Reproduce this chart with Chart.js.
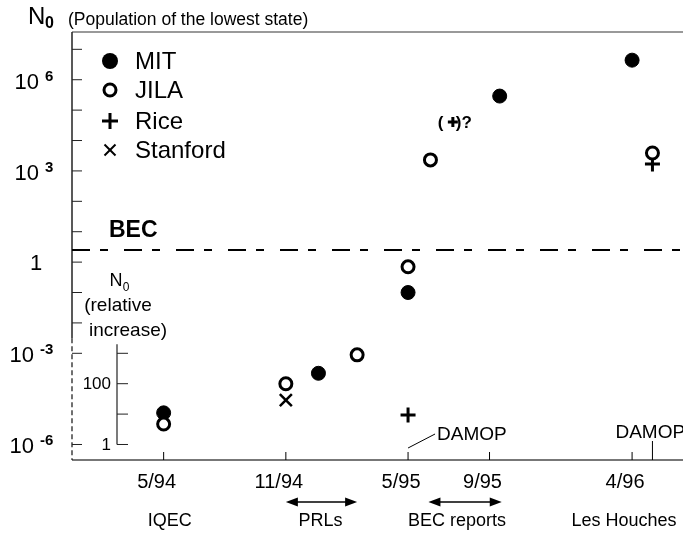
<!DOCTYPE html>
<html>
<head>
<meta charset="utf-8">
<script src="https://cdn.jsdelivr.net/npm/chart.js@4.4.0/dist/chart.umd.min.js"></script>
<style>
  html, body { margin: 0; padding: 0; background: #fff; }
  #wrap { width: 683px; height: 535px; }
</style>
</head>
<body>
<div id="wrap"><canvas id="becChart" width="683" height="535"></canvas></div>
<script>
// x = months counted from 5/94, y = N0 (population of the lowest state)
const seriesNames = ['MIT', 'JILA', 'Rice', 'Stanford']

const mitMonths = [0, 7.6, 12, 16.5, 23]
const mitN0 = [1.1e-5, 2.2e-4, 0.1, 2.9e5, 4.4e6]

const jilaMonths = [0, 6, 9.5, 12, 13.1, 24]
const jilaN0 = [4.7e-6, 1e-4, 8.9e-4, 0.7, 2.3e3, 3.9e3]

const riceMonths = [12, 14.2, 24]
const riceN0 = [9.4e-6, 4.1e4, 1.7e3]

const stanfordMonths = [6]
const stanfordN0 = [2.9e-5]

const tickMonths = [0, 6, 12, 16, 23]
const tickLabels = ['5/94', '11/94', '5/95', '9/95', '4/96']

const decadeTicks = [7, 6, 5, 4, 3, 2, 1, 0, -1, -2, -3, -6]
const labelExps = [6, 3, 0, -3, -6]

const relTicks = [1000, 100, 10, 1]
const relLabels = ['', '100', '', '1']

const becLevel = 2.5
const damopMonths = [12, 24]
const eventNames = ['IQEC', 'PRLs', 'BEC reports', 'Les Houches']
const eventMonths = [0.3, 7.7, 14.4, 22.6]
const prlSpan = [6, 9.5]
const becReportSpan = [13, 16.6]

;(function() {
    "use strict"

    const FONT = '"Liberation Sans", Arial, sans-serif'

    const toPoints = (xs, ys) => xs.map((m, i) => ({ x: m, y: ys[i] }))

    const figureUI = (function() {

        const text = (ctx, str, x, y, size, opts = {}) => {
            ctx.font = (opts.bold ? 'bold ' : '') + size + 'px ' + FONT
            ctx.textAlign = opts.align || 'left'
            ctx.textBaseline = opts.base || 'middle'
            ctx.fillStyle = '#000'
            ctx.fillText(str, x, y)
        }

        const line = (ctx, x1, y1, x2, y2, w, color, dash) => {
            ctx.save()
            ctx.beginPath()
            ctx.lineWidth = w
            ctx.strokeStyle = color || '#000'
            ctx.setLineDash(dash || [])
            ctx.moveTo(x1, y1)
            ctx.lineTo(x2, y2)
            ctx.stroke()
            ctx.restore()
        }

        const arrowHead = (ctx, x, y, dir) => {
            ctx.beginPath()
            ctx.moveTo(x, y)
            ctx.lineTo(x - dir * 12, y - 4.5)
            ctx.lineTo(x - dir * 12, y + 4.5)
            ctx.closePath()
            ctx.fillStyle = '#000'
            ctx.fill()
        }

        const doubleArrow = (ctx, x1, x2, y) => {
            line(ctx, x1 + 6, y, x2 - 6, y, 1.5)
            arrowHead(ctx, x1, y, -1)
            arrowHead(ctx, x2, y, 1)
        }

        const legendMarker = (ctx, name, x, y) => {
            ctx.save()
            ctx.strokeStyle = '#000'
            ctx.fillStyle = '#000'
            if (name === 'MIT') {
                ctx.beginPath(); ctx.arc(x, y, 8, 0, Math.PI * 2); ctx.fill()
            } else if (name === 'JILA') {
                ctx.lineWidth = 3
                ctx.beginPath(); ctx.arc(x, y, 6, 0, Math.PI * 2); ctx.stroke()
            } else if (name === 'Rice') {
                line(ctx, x - 8, y, x + 8, y, 3)
                line(ctx, x, y - 8, x, y + 8, 3)
            } else {
                line(ctx, x - 5.5, y - 5.5, x + 5.5, y + 5.5, 2)
                line(ctx, x - 5.5, y + 5.5, x + 5.5, y - 5.5, 2)
            }
            ctx.restore()
        }

        return {
            drawAxes: chart => {
                const { ctx, chartArea: a, scales: { x, y } } = chart
                const y3 = y.getPixelForValue(1e-3)

                // frame top + time axis
                line(ctx, a.left, a.top, a.right, a.top, 1.5, '#777')
                line(ctx, a.left, a.bottom, a.right, a.bottom, 2, '#777')

                // N0 axis, dashed below 10^-3
                line(ctx, a.left, a.top, a.left, y3 - 15, 1.5, '#222')
                line(ctx, a.left, y3 - 15, a.left, a.bottom, 1.2, '#111', [5, 3])

                decadeTicks.forEach(d => {
                    const py = y.getPixelForValue(Math.pow(10, d))
                    line(ctx, a.left, py, a.left + 10, py, 1, '#222')
                })

                labelExps.forEach(e => {
                    const py = y.getPixelForValue(Math.pow(10, e))
                    if (e === 0) {
                        text(ctx, '1', 36, py + 2, 22, { align: 'center' })
                        return
                    }
                    const right = e > 0 ? 39 : 34
                    text(ctx, '10', right, py + 9, 22, { align: 'right', base: 'alphabetic' })
                    text(ctx, String(e), right + 6, py + 1, 15, { bold: true, base: 'alphabetic' })
                })

                // inner "relative increase" axis
                const ix = a.left + 45
                line(ctx, ix, y3 - 9, ix, y.getPixelForValue(1e-6), 1.2, '#222')
                relTicks.forEach((r, i) => {
                    const py = y.getPixelForValue(r * 1e-6)
                    line(ctx, ix, py, ix + 11, py, 1, '#222')
                    if (relLabels[i]) text(ctx, relLabels[i], ix - 6, py + 1, 17, { align: 'right' })
                })
                text(ctx, 'N', ix - 1, 281, 18, { align: 'center' })
                text(ctx, '0', ix + 9, 288, 12, { align: 'center' })
                text(ctx, '(relative', ix + 1, 306, 19, { align: 'center' })
                text(ctx, 'increase)', ix + 11, 331, 19, { align: 'center' })

                // BEC threshold
                const by = y.getPixelForValue(becLevel)
                line(ctx, a.left, by, a.right, by, 2, '#000', [18, 10, 8, 16])
                text(ctx, 'BEC', 109, by - 19, 23, { bold: true })

                // time ticks
                tickMonths.forEach((m, i) => {
                    const px = x.getPixelForValue(m)
                    line(ctx, px, a.bottom - 8, px, a.bottom, 1)
                    text(ctx, tickLabels[i], px - 7, a.bottom + 22, 20, { align: 'center' })
                })

                // DAMOP markers
                const d1 = x.getPixelForValue(damopMonths[0])
                line(ctx, d1, a.bottom - 12, d1 + 27, a.bottom - 26, 1)
                text(ctx, 'DAMOP', d1 + 29, a.bottom - 25, 19)
                const d2 = x.getPixelForValue(damopMonths[1])
                line(ctx, d2, a.bottom - 19, d2, a.bottom, 1)
                text(ctx, 'DAMOP', d2 - 37, a.bottom - 27, 19)

                // events below the axis
                doubleArrow(ctx, x.getPixelForValue(prlSpan[0]), x.getPixelForValue(prlSpan[1]), a.bottom + 42)
                doubleArrow(ctx, x.getPixelForValue(becReportSpan[0]), x.getPixelForValue(becReportSpan[1]), a.bottom + 42)
                eventNames.forEach((n, i) => {
                    text(ctx, n, x.getPixelForValue(eventMonths[i]), a.bottom + 61, 18, { align: 'center' })
                })

                // title
                text(ctx, 'N', 28, 17, 24)
                text(ctx, '0', 45, 24, 16, { bold: true })
                text(ctx, '(Population of the lowest state)', 68, 20, 17.5)
            },
            drawOverlay: chart => {
                const { ctx, scales: { x, y } } = chart
                const px = x.getPixelForValue(riceMonths[1])
                const py = y.getPixelForValue(riceN0[1])
                text(ctx, '(', px - 15, py + 1, 17, { bold: true })
                text(ctx, ')?', px + 3, py + 1, 17, { bold: true })

                seriesNames.forEach((n, i) => {
                    const ly = [61, 90, 121, 150][i]
                    legendMarker(ctx, n, 110, ly)
                    text(ctx, n, 135, ly + 1, 24)
                })
            }
        }
    })()

    const figureCTRL = (function(UI) {

        const figurePlugin = {
            id: 'figurePlugin',
            beforeDatasetsDraw: chart => UI.drawAxes(chart),
            afterDatasetsDraw: chart => UI.drawOverlay(chart)
        }

        const datasets = [
            {
                label: seriesNames[1],
                data: toPoints(jilaMonths, jilaN0),
                pointStyle: 'circle',
                pointRadius: 6,
                pointBorderWidth: 3,
                pointBorderColor: '#000',
                pointBackgroundColor: '#fff',
                order: 1
            },
            {
                label: seriesNames[0],
                data: toPoints(mitMonths, mitN0),
                pointStyle: 'circle',
                pointRadius: 7,
                pointBorderWidth: 1,
                pointBorderColor: '#000',
                pointBackgroundColor: '#000',
                order: 2
            },
            {
                label: seriesNames[2],
                data: toPoints(riceMonths, riceN0),
                pointStyle: 'cross',
                pointRadius: c => c.dataIndex === 1 ? 5 : 7.5,
                pointBorderWidth: 3,
                pointBorderColor: '#000',
                order: 3
            },
            {
                label: seriesNames[3],
                data: toPoints(stanfordMonths, stanfordN0),
                pointStyle: 'crossRot',
                pointRadius: 8.5,
                pointBorderWidth: 2.5,
                pointBorderColor: '#000',
                order: 4
            }
        ]

        return {
            init: () => {
                const ctx = document.getElementById('becChart')
                new Chart(ctx, {
                    type: 'scatter',
                    data: { datasets: datasets },
                    options: {
                        responsive: false,
                        animation: false,
                        devicePixelRatio: 1,
                        events: [],
                        layout: { autoPadding: false, padding: { left: 72, top: 32, right: 0, bottom: 75 } },
                        plugins: { legend: { display: false }, tooltip: { enabled: false } },
                        scales: {
                            x: { type: 'linear', display: false, min: -4.5, max: 25.5 },
                            y: { type: 'logarithmic', display: false, min: Math.pow(10, -6.51), max: Math.pow(10, 7.57) }
                        }
                    },
                    plugins: [figurePlugin]
                })
            }
        }
    })(figureUI)

    figureCTRL.init()

})()
</script>
</body>
</html>
